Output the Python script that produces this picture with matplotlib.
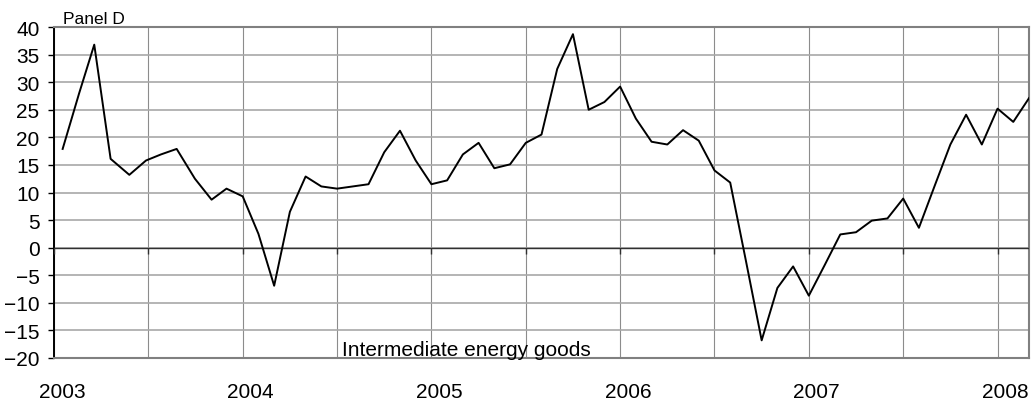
import matplotlib
matplotlib.use("Agg")
import matplotlib.pyplot as plt
from matplotlib.markers import TICKDOWN
import numpy as np

plt.rcParams['font.family'] = ['Liberation Sans', 'DejaVu Sans']

# months since January 2003 (observation dates) and values
months = [0.55, 1.6, 2.56, 3.6, 4.79, 5.85, 6.8, 7.8, 8.96, 10.02, 10.97,
          12, 13, 14, 15, 16, 17, 18, 19, 20, 21, 22, 23,
          24, 25, 26, 27, 28, 29, 30, 31, 32, 33, 34, 35,
          36, 37, 38, 39, 40, 41, 42, 43, 44, 45, 46, 47,
          48, 49, 50, 51, 52, 53, 54, 55, 56, 57, 58, 59,
          60, 61, 62]
values = [17.9, 28.0, 36.8, 16.1, 13.2, 15.8, 16.9, 17.9, 12.5, 8.7, 10.7,
          9.3, 2.5, -6.9, 6.5, 12.9, 11.1, 10.7, 11.1, 11.5, 17.3, 21.2, 15.8,
          11.5, 12.2, 16.9, 19.0, 14.4, 15.1, 19.0, 20.5, 32.4, 38.7, 25.0, 26.4,
          29.2, 23.4, 19.2, 18.7, 21.3, 19.4, 14.0, 11.8, -2.4, -16.8, -7.3, -3.4,
          -8.7, -3.2, 2.4, 2.8, 4.9, 5.3, 8.9, 3.6, 11.2, 18.7, 24.1, 18.7,
          25.2, 22.8, 27.1]
years = ['2003', '2004', '2005', '2006', '2007', '2008']
year_start = [0, 12, 24, 36, 48, 60]
y_ticks = list(range(-20, 45, 5))

fig = plt.figure(figsize=(10.33, 4.02), dpi=100)
ax = fig.add_axes([54/1033, 43/402, 975/1033, 331/402])

ax.set_xlim(0, 62)
ax.set_ylim(-20, 40)

# horizontal gridlines
ax.set_yticks(y_ticks)
ax.yaxis.grid(True, color='#a8a8a8', linewidth=1.2)
# vertical gridlines every half year (minor ticks)
half_years = np.arange(0, 63, 6)
ax.set_xticks(half_years, minor=True)
ax.xaxis.grid(True, which='minor', color='#8c8c8c', linewidth=0.8)
ax.xaxis.grid(False, which='major')
ax.set_axisbelow(True)

# year labels
ax.set_xticks([s + 0.5 for s in year_start])
ax.set_xticklabels(years)
ax.tick_params(axis='x', which='both', length=0, pad=17.5, labelsize=15)
ax.tick_params(axis='y', direction='out', length=4, width=1, pad=6.5,
               labelsize=15, color='black')

# zero line with small tick marks at half-year positions
ax.axhline(0, color='#303030', linewidth=1.0, zorder=3)
ax.plot(half_years, np.zeros(len(half_years)), linestyle='none',
        marker=TICKDOWN, markersize=4, markeredgewidth=1.0,
        color='#303030', zorder=3)

ax.plot(months, values, color='black', linewidth=1.4, zorder=5)

for s in ['top', 'right', 'bottom']:
    ax.spines[s].set_color('#808080')
    ax.spines[s].set_linewidth(1.5)
ax.spines['left'].set_color('black')
ax.spines['left'].set_linewidth(1.4)

ax.text(18.3, -19.4, 'Intermediate energy goods', fontsize=15, va='baseline', ha='left')
ax.text((63-54)/975, 1 + 4/331, 'Panel D', fontsize=12.5, va='baseline', ha='left',
        transform=ax.transAxes)

fig.savefig('out.png', dpi=100)
